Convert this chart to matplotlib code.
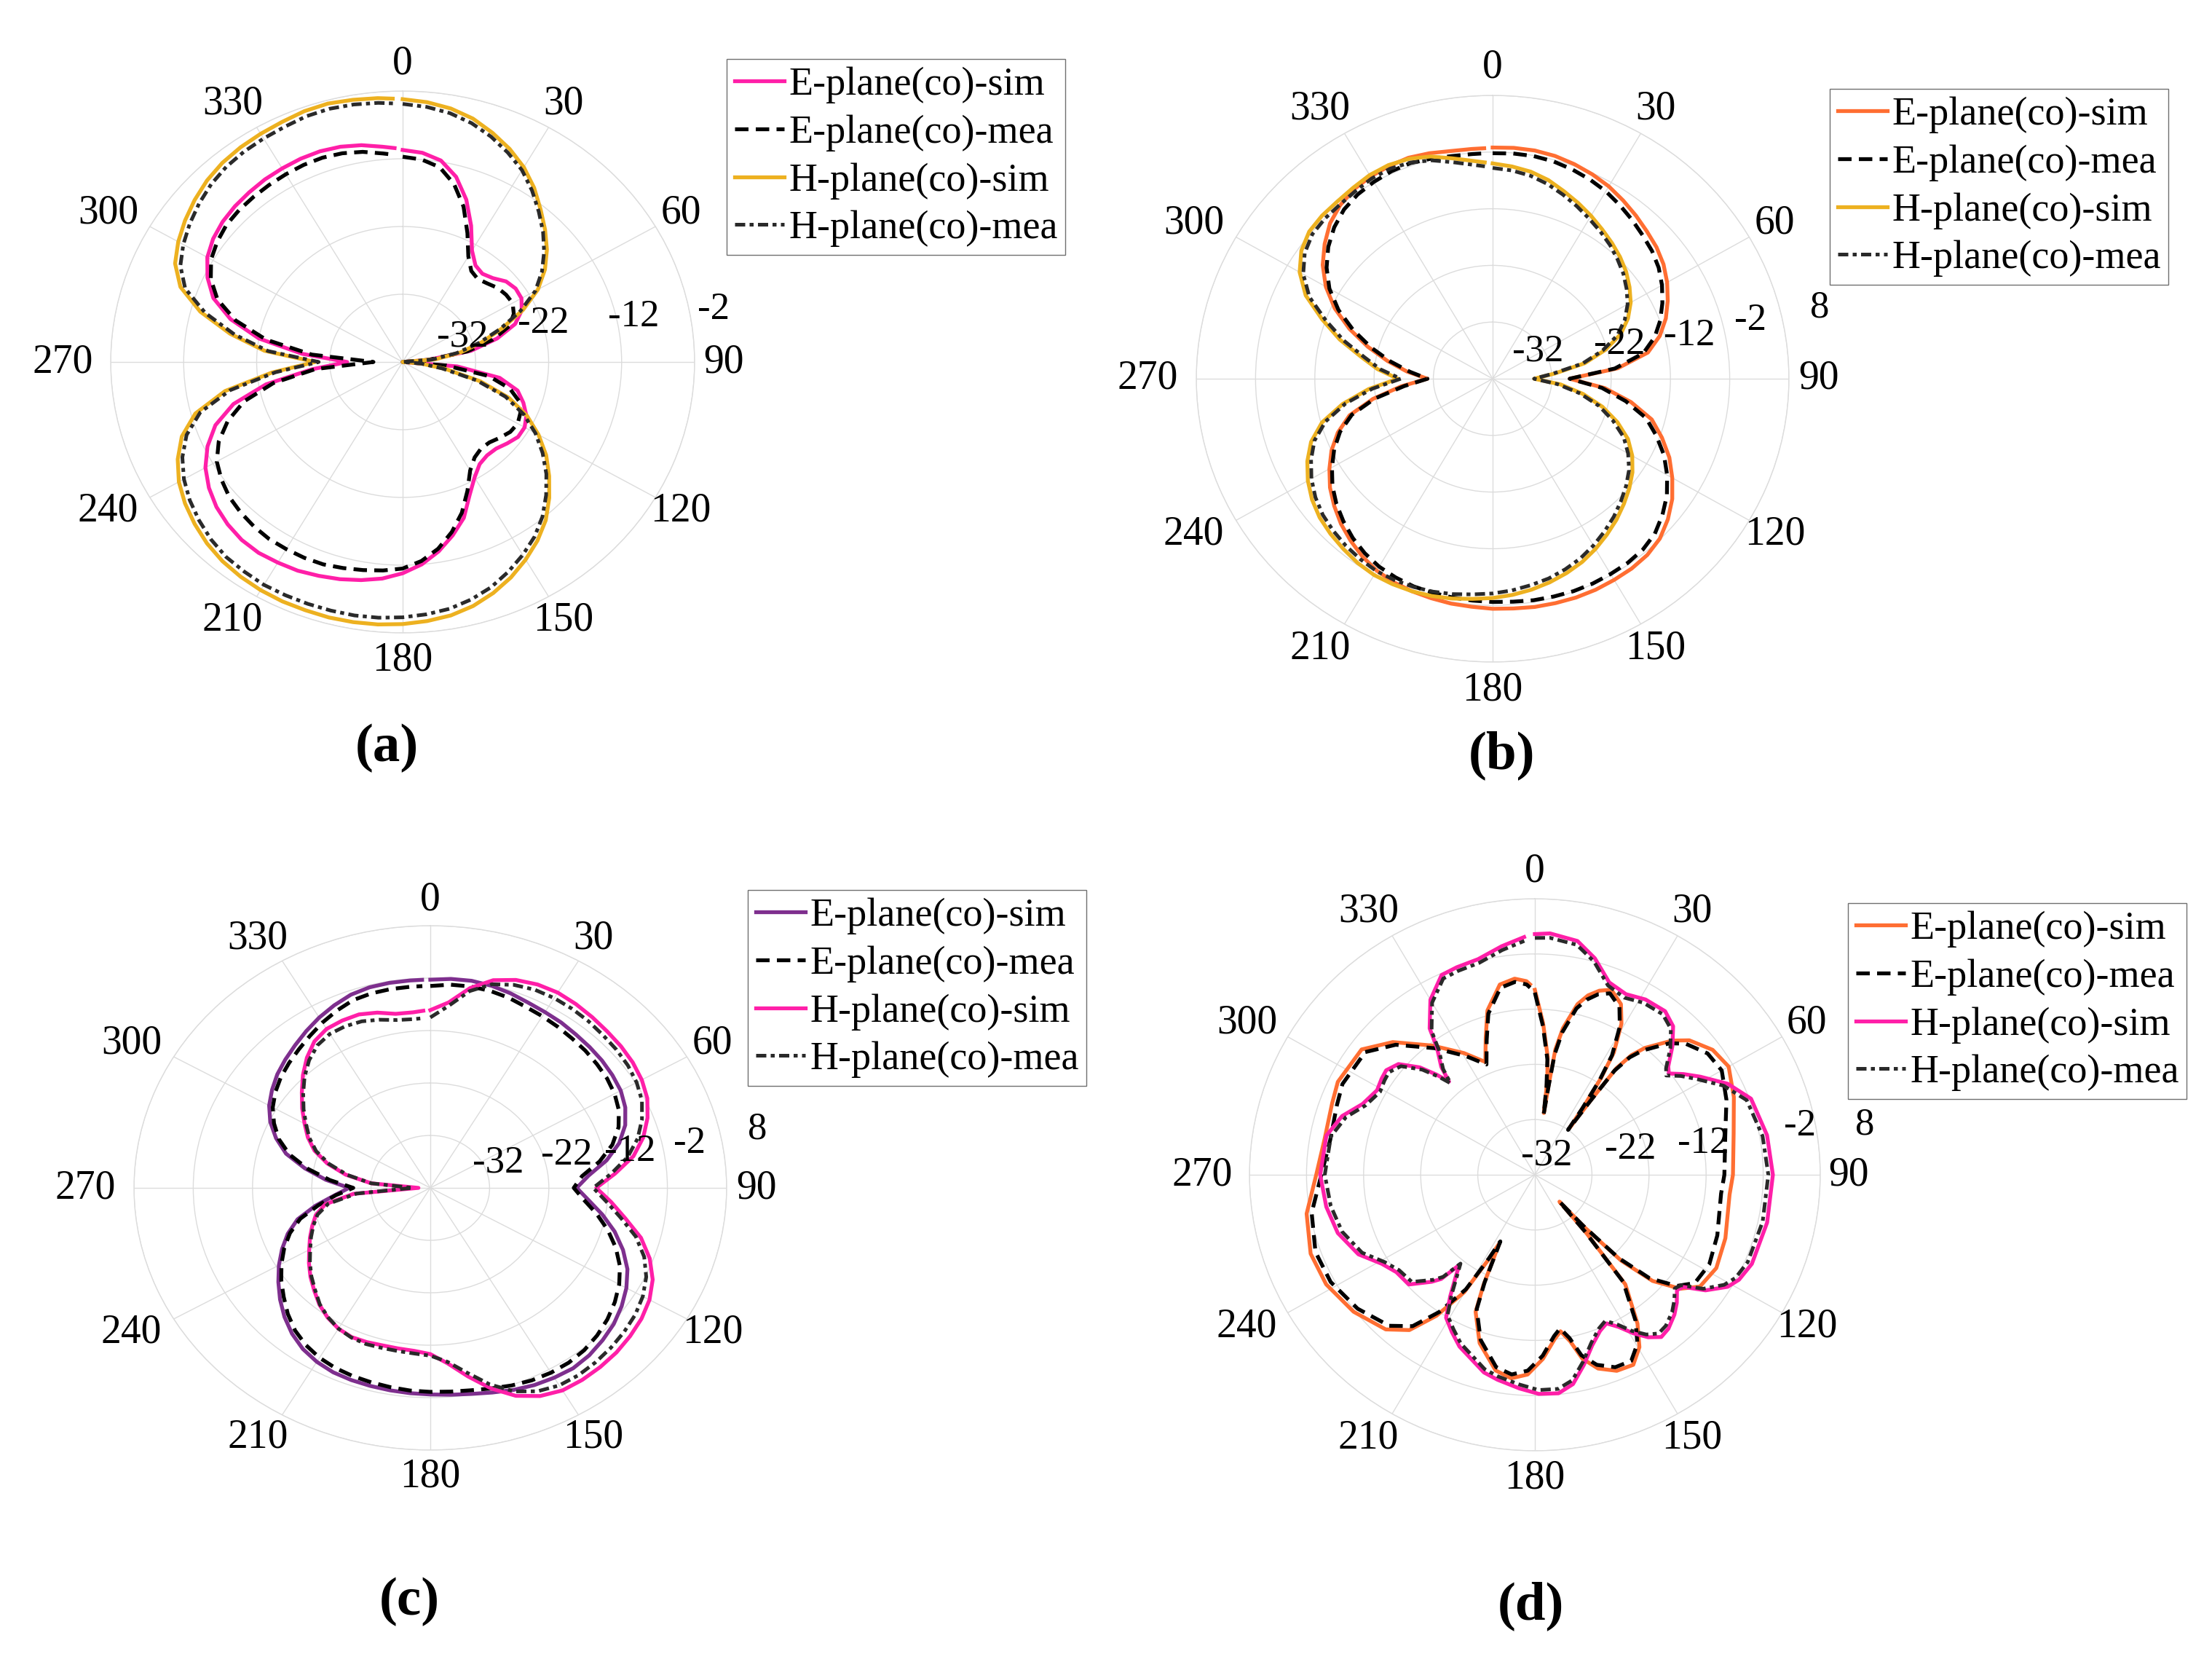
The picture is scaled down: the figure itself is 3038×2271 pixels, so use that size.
import numpy as np
import matplotlib.pyplot as plt

plt.rcParams['font.family'] = ['Liberation Serif', 'DejaVu Serif']

W, H = 3038, 2271

# ---- data (dB), angles in degrees, clockwise from top ----
th_abc = list(range(0, 360, 5)) + [358]

# (a)
a_e_sim = [-10.7, -11.0, -11.8, -13.7, -16.5, -19.8, -23.0, -24.6, -25.0, -24.5, -23.5, -23.1,
           -23.2, -24.0, -25.6, -28.6, -32.5, -38.5, -42.0, -34.5, -28.5, -25.7, -24.4, -23.3,
           -22.7, -22.7, -23.3, -23.9, -24.0, -23.6, -22.3, -20.3, -17.5, -15.5, -13.6, -12.0,
           -10.8, -9.9, -9.3, -8.8, -8.4, -8.0, -7.8, -7.6, -7.7, -8.1, -8.7, -9.6,
           -10.8, -12.5, -14.7, -18.0, -23.0, -29.5, -34.4, -28.2, -22.0, -17.6, -14.4, -12.5,
           -11.1, -10.3, -9.8, -9.5, -9.3, -9.1, -9.0, -8.9, -8.9, -9.1, -9.5, -10.1,
           -10.4]
a_e_mea = [-11.7, -12.0, -12.8, -14.8, -17.6, -21.0, -24.0, -25.6, -26.0, -25.6, -25.0, -24.7,
           -24.6, -25.2, -26.4, -29.2, -33.0, -38.5, -42.0, -36.0, -30.0, -26.8, -25.0, -24.2,
           -23.8, -24.0, -24.6, -25.2, -25.3, -24.8, -23.5, -21.0, -18.3, -16.0, -14.0, -12.5,
           -11.5, -11.1, -10.8, -10.5, -10.2, -10.1, -10.1, -10.1, -10.3, -10.6, -11.0, -11.7,
           -12.6, -14.2, -16.5, -19.5, -24.0, -30.0, -38.0, -29.5, -23.0, -18.3, -15.0, -13.0,
           -11.7, -11.0, -10.5, -10.3, -10.2, -10.1, -10.0, -9.9, -9.9, -10.1, -10.5, -11.1,
           -11.4]
a_h_sim = [-3.2, -3.5, -4.0, -4.8, -6.0, -7.3, -8.8, -10.6, -12.6, -14.4, -16.2, -18.2,
           -20.6, -23.8, -27.5, -30.8, -34.0, -37.5, -42.0, -39.5, -36.0, -31.0, -26.5, -23.2,
           -20.5, -18.0, -15.8, -13.6, -11.5, -9.8, -8.3, -6.9, -5.7, -4.7, -4.0, -3.6,
           -3.3, -3.1, -3.0, -2.95, -3.0, -3.0, -3.1, -3.3, -3.6, -4.1, -4.8, -5.6,
           -6.6, -8.0, -9.8, -12.6, -17.3, -24.0, -30.0, -23.0, -18.0, -13.3, -9.6, -7.6,
           -6.5, -5.6, -4.8, -4.1, -3.6, -3.3, -3.1, -2.9, -2.6, -2.5, -2.7, -2.9,
           -3.1]
a_h_mea = [-3.9, -4.2, -4.7, -5.5, -6.6, -7.9, -9.3, -11.1, -13.0, -14.8, -16.7, -18.7,
           -21.0, -24.2, -27.8, -31.2, -34.5, -38.0, -42.0, -39.5, -36.5, -31.5, -27.0, -23.7,
           -21.0, -18.6, -16.3, -14.2, -12.2, -10.5, -9.1, -7.8, -6.6, -5.7, -5.0, -4.6,
           -4.3, -4.1, -4.0, -4.0, -4.0, -4.0, -4.0, -4.2, -4.4, -4.9, -5.6, -6.4,
           -7.4, -8.7, -10.5, -13.3, -18.0, -24.5, -30.5, -23.5, -18.6, -14.0, -10.3, -8.4,
           -7.3, -6.4, -5.6, -4.9, -4.4, -4.1, -3.9, -3.7, -3.4, -3.3, -3.4, -3.6,
           -3.8]

# (b)
b_e_sim = [-1.2, -1.1, -1.1, -1.3, -1.7, -2.2, -2.8, -3.6, -4.4, -5.2, -5.9, -6.8,
           -8.0, -9.4, -10.9, -12.8, -15.4, -20.8, -29.0, -23.0, -18.3, -14.2, -11.6, -9.1,
           -7.0, -5.0, -3.4, -2.1, -1.4, -1.1, -1.0, -0.9, -0.9, -1.0, -1.1, -1.3,
           -1.4, -1.6, -1.7, -1.9, -2.1, -2.4, -2.9, -3.7, -4.7, -5.8, -7.1, -8.5,
           -10.2, -12.0, -14.2, -17.0, -21.5, -26.5, -31.0, -27.5, -24.0, -20.2, -16.3, -12.6,
           -9.5, -7.0, -5.0, -3.2, -2.0, -1.2, -0.8, -0.6, -0.5, -0.8, -1.2, -1.3,
           -1.3]
b_e_mea = [-2.2, -2.1, -2.1, -2.3, -2.7, -3.2, -3.8, -4.6, -5.4, -6.2, -6.9, -7.8,
           -9.0, -10.4, -11.9, -13.7, -16.2, -21.3, -29.0, -23.5, -19.2, -15.2, -12.6, -10.1,
           -8.0, -6.1, -4.6, -3.3, -2.6, -2.3, -2.2, -2.1, -2.1, -2.2, -2.3, -2.5,
           -2.6, -2.7, -2.8, -2.9, -3.0, -3.3, -3.7, -4.4, -5.3, -6.4, -7.6, -9.0,
           -10.7, -12.5, -14.6, -17.4, -21.8, -27.0, -31.0, -28.0, -24.5, -20.8, -17.0, -13.3,
           -10.2, -7.8, -5.8, -4.2, -3.0, -2.3, -1.9, -1.6, -1.5, -1.8, -2.1, -2.2,
           -2.2]
b_h_sim = [-4.0, -4.4, -4.9, -5.7, -6.8, -7.8, -8.8, -9.8, -10.7, -11.6, -12.6, -13.8,
           -15.1, -16.8, -19.0, -22.3, -26.2, -31.5, -35.0, -30.5, -26.5, -22.8, -19.6, -16.8,
           -14.8, -13.2, -11.9, -10.7, -9.5, -8.4, -7.3, -6.3, -5.5, -4.8, -4.2, -3.7,
           -3.3, -3.0, -2.6, -2.3, -2.1, -2.0, -2.0, -2.3, -2.8, -3.3, -3.9, -4.8,
           -6.0, -7.5, -9.4, -12.2, -16.3, -21.0, -26.0, -22.5, -19.4, -15.3, -11.4, -7.2,
           -4.4, -2.6, -1.6, -1.3, -1.2, -0.9, -0.5, -0.4, -0.7, -1.4, -2.5, -3.4,
           -3.8]
b_h_mea = [-4.8, -5.1, -5.6, -6.4, -7.4, -8.4, -9.4, -10.3, -11.2, -12.2, -13.2, -14.4,
           -15.7, -17.4, -19.6, -22.8, -26.6, -31.8, -35.0, -31.0, -27.0, -23.4, -20.4, -17.6,
           -15.6, -13.9, -12.6, -11.4, -10.2, -9.1, -8.0, -7.0, -6.2, -5.5, -5.0, -4.5,
           -4.1, -3.8, -3.4, -3.1, -2.9, -2.8, -2.8, -3.1, -3.5, -4.0, -4.6, -5.5,
           -6.7, -8.2, -10.0, -12.8, -16.8, -21.6, -26.5, -23.0, -20.0, -16.0, -12.1, -7.9,
           -5.1, -3.3, -2.3, -2.0, -1.9, -1.6, -1.2, -1.1, -1.4, -2.1, -3.2, -4.1,
           -4.5]

# (c)
c_e_sim = [-2.3, -2.0, -1.9, -2.1, -2.5, -3.0, -3.3, -3.5, -3.8, -4.0, -4.2, -4.5,
           -4.9, -5.7, -7.0, -9.0, -11.8, -15.2, -17.3, -15.2, -12.5, -9.8, -7.4, -5.3,
           -3.8, -2.6, -1.6, -0.9, -0.3, 0.0, -0.2, -0.5, -1.0, -1.6, -2.1, -2.4,
           -2.6, -2.7, -2.8, -2.9, -3.0, -3.2, -3.7, -4.5, -5.7, -7.2, -8.9, -10.7,
           -12.5, -14.4, -16.4, -18.8, -22.3, -25.8, -28.3, -24.3, -20.5, -16.8, -14.3, -12.2,
           -10.6, -9.4, -8.3, -7.4, -6.5, -5.5, -4.5, -3.6, -2.8, -2.4, -2.3, -2.3,
           -2.3]
c_e_mea = [-3.5, -3.1, -3.0, -3.1, -3.4, -3.9, -4.2, -4.5, -4.8, -5.0, -5.3, -5.6,
           -6.1, -6.9, -8.2, -10.2, -13.0, -16.3, -17.8, -16.0, -13.5, -11.0, -8.7, -6.7,
           -5.2, -4.0, -3.0, -2.2, -1.6, -1.3, -1.3, -1.5, -1.9, -2.4, -2.8, -3.0,
           -3.1, -3.2, -3.4, -3.6, -3.8, -4.1, -4.6, -5.4, -6.5, -8.0, -9.7, -11.3,
           -13.0, -14.8, -16.8, -19.3, -22.8, -26.0, -29.0, -25.0, -21.0, -17.4, -14.8, -12.9,
           -11.3, -10.1, -9.1, -8.3, -7.5, -6.6, -5.6, -4.7, -3.9, -3.6, -3.5, -3.5,
           -3.5]
c_h_sim = [-8.1, -6.5, -3.3, -1.0, 0.2, 0.8, 1.0, 0.8, 0.5, 0.2, 0.0, -0.3,
           -0.8, -1.6, -3.0, -4.8, -7.2, -10.7, -14.0, -11.4, -8.6, -5.2, -2.6, -0.6,
           0.7, 1.5, 2.0, 2.4, 2.6, 2.7, 2.6, 1.8, 0.2, -2.4, -5.5, -8.4,
           -10.3, -10.8, -10.9, -10.9, -10.7, -10.6, -11.0, -11.8, -12.9, -14.3, -15.6, -17.0,
           -18.4, -19.6, -20.8, -22.0, -24.0, -29.0, -40.0, -32.0, -27.5, -24.0, -21.2, -19.2,
           -17.5, -15.6, -13.7, -11.6, -9.6, -7.9, -7.0, -6.8, -6.8, -7.4, -8.3, -8.4,
           -8.2]
c_h_mea = [-9.5, -7.2, -3.9, -1.8, -0.8, -0.3, -0.2, -0.3, -0.5, -0.8, -1.0, -1.3,
           -1.8, -2.6, -4.0, -5.8, -8.2, -11.4, -14.5, -12.2, -9.4, -6.1, -3.6, -1.8,
           -0.6, 0.2, 0.7, 1.1, 1.4, 1.6, 1.5, 0.8, -0.7, -3.2, -6.2, -8.7,
           -10.0, -10.3, -10.4, -10.4, -10.3, -10.5, -11.0, -11.9, -13.0, -14.5, -15.8, -17.2,
           -18.6, -19.8, -21.0, -22.3, -24.5, -29.5, -39.0, -32.0, -27.8, -24.3, -21.5, -19.5,
           -17.8, -15.9, -14.0, -12.0, -10.2, -8.8, -8.1, -8.0, -8.2, -8.8, -9.5, -9.7,
           -9.6]

# (d)
d_e_th = [0, 3, 6, 7.3, 8, 8.5, 9, 10.5, 13.6, 16, 18.7, 21.8, 26, 29, 32, 33.5, 34.7, 35.6,
          36, 36.5, 38, 40, 44.7, 48, 54, 60, 68, 78, 90, 96, 109, 118, 125, 129, 133, 135.8,
          137.5, 138.5, 139.5, 141.4, 146.3, 149.6, 153.4, 158, 162.5, 166, 168.4, 171, 173.4,
          177.6, 182, 186.4, 191, 197.6, 202.7, 204.3, 206.6, 208, 210.2, 214, 218, 223, 232,
          241.5, 250, 260, 270, 280, 290, 296, 306.8, 314, 322.5, 330.6, 337, 340.9, 344.4,
          349.9, 354.3, 357.6, 358.6]
d_e_sim = [-8.5, -14.5, -20.5, -25, -30.7, -25, -19, -15, -10.2, -8.2, -6.8, -5.9, -7.6, -10.7,
           -15.9, -21, -27, -31.5, -25, -18, -14.5, -12, -7.8, -5.6, -3.5, -2.8, -4.4, -6.4,
           -7.3, -7.7, -6.7, -6.0, -6.7, -9.2, -13.8, -20.3, -29, -35.5, -28, -16.6, -9.6,
           -5.8, -3.5, -3.7, -5.2, -7.7, -11.2, -13.3, -12, -8.6, -5.8, -4.9, -5.9, -10,
           -15.1, -20.2, -28.1, -24.3, -17.4, -11.2, -6.3, -3.7, -1.7, -0.4, -0.2, -1.4,
           -3.7, -4.6, -4.2, -3.6, -4.1, -7.4, -12.5, -16.7, -19.8, -15.7, -11.1, -7.0,
           -6.3, -6.9, -7.5]
d_e_mea = [-9.0, -15.0, -21.0, -26.0, -31.0, -26.0, -20.0, -15.8, -11.0, -9.0, -7.5, -6.6,
           -8.2, -11.3, -16.5, -21.5, -27.5, -32.0, -25.5, -18.5, -15.0, -12.6, -8.5, -6.5,
           -4.6, -4.2, -5.8, -7.9, -8.8, -9.2, -8.2, -7.4, -7.8, -10.0, -14.5, -21.0, -29.5,
           -35.5, -28.5, -17.2, -10.2, -6.5, -4.3, -4.4, -5.9, -8.3, -11.8, -13.8, -12.6,
           -9.2, -6.5, -5.6, -6.5, -10.6, -15.6, -20.6, -28.5, -24.8, -18.0, -12.0, -7.2,
           -4.6, -2.6, -1.3, -1.1, -2.3, -4.6, -5.6, -5.1, -4.5, -4.9, -8.1, -13.1, -17.3,
           -20.3, -16.2, -11.7, -7.6, -6.9, -7.5, -8.1]
d_h_th = [0, 3.5, 10, 15, 20.5, 26, 31.4, 37.6, 42, 46, 50, 52, 55, 58.5, 64, 70, 80, 90,
          102, 113, 118, 121, 125, 128, 130, 133, 136, 140, 143, 146, 149, 152, 155, 158,
          162, 166, 170, 174, 179, 184, 190, 194, 203, 207, 211, 214, 217, 219, 221, 223,
          228, 234, 239, 245, 253, 261, 270, 281, 287.5, 293, 299, 303, 306, 310, 314,
          316.5, 318.3, 320, 323.3, 325.2, 330, 335.7, 340, 345.7, 352, 357.5]
d_h_sim = [1.6, 1.8, 1.0, -1.4, -4.8, -5.6, -4.8, -4.6, -5.8, -8.5, -11.5, -12.2, -10.2,
           -8.0, -4.4, -1.7, -0.7, -0.3, -0.4, -0.7, -1.5, -2.6, -5.5, -9.0, -9.5, -8.0,
           -6.8, -5.6, -5.2, -6.5, -8.5, -10.8, -12.3, -11.5, -9.5, -6.5, -3.5, -2.2, -2.3,
           -3.2, -4.3, -5.1, -8.2, -10.0, -11.8, -15.5, -19.0, -21.0, -17.0, -15.5, -12.3,
           -12.0, -10.7, -7.9, -5.9, -5.0, -4.4, -4.8, -6.6, -9.2, -10.4, -10.0, -9.8,
           -10.8, -14.0, -17.0, -19.4, -16.5, -13.3, -9.7, -5.4, -2.3, -2.0, -1.7, -0.2, 1.1]
d_h_mea = [0.9, 1.0, 0.3, -2.0, -5.4, -6.3, -5.5, -5.3, -6.4, -9.0, -12.0, -12.8, -10.8,
           -8.8, -5.2, -2.5, -1.5, -1.1, -1.2, -1.5, -2.2, -3.3, -6.0, -9.5, -10.0, -8.6,
           -7.4, -6.3, -6.0, -7.1, -9.0, -11.3, -12.8, -12.0, -10.0, -7.1, -4.2, -3.0, -3.0,
           -3.9, -4.9, -5.7, -8.8, -10.6, -12.3, -16.0, -19.5, -21.3, -17.5, -16.0, -13.0,
           -12.6, -11.3, -8.6, -6.7, -5.8, -5.2, -5.6, -7.3, -9.8, -11.0, -10.6, -10.4,
           -11.4, -14.6, -17.5, -19.8, -17.0, -13.9, -10.3, -6.0, -3.0, -2.7, -2.4, -0.9, 0.4]

labels = ['E-plane(co)-sim', 'E-plane(co)-mea', 'H-plane(co)-sim', 'H-plane(co)-mea']
theta_ticks = list(range(0, 360, 30))
r_ticks_a = [-32, -22, -12, -2]
r_ticks = [-32, -22, -12, -2, 8]

MAGENTA = '#ff1fa8'
YELLOW = '#edb120'
ORANGE = '#ff6e32'
PURPLE = '#7e2f8e'

SIM = dict(ls='-', lw=3.8)
E_MEA = dict(color='black', lw=3.8, dashes=(3.5, 1.9))
H_MEA = dict(color='#2a2a2a', lw=3.6, dashes=(2.8, 1.2, 1.1, 1.2))

fig = plt.figure(figsize=(W / 100, H / 100), dpi=100)


def panel(cx, cy, rx, ry, rmax, rticks, rlab, curves, leg_xy, tag, tag_xy):
    ax = fig.add_axes([(cx - rx) / W, 1 - (cy + ry) / H, 2 * rx / W, 2 * ry / H],
                      projection='polar')
    ax.set_aspect('auto')
    ax.set_theta_zero_location('N')
    ax.set_theta_direction(-1)
    ax.set_ylim(-42, rmax)
    ax.set_yticks(rticks)
    ax.set_yticklabels([])
    ax.set_xticks(np.deg2rad(theta_ticks))
    ax.set_xticklabels([])
    ax.grid(True, color='#dcdcdc', lw=1.0)
    ax.spines['polar'].set_color('#dcdcdc')
    ax.spines['polar'].set_linewidth(1.0)

    # angle labels just outside the outer ring
    for t in theta_ticks:
        s, c = np.sin(np.deg2rad(t)), np.cos(np.deg2rad(t))
        nx = 1.10 * s - 0.065 * max(0.0, -s)
        ny = 1.10 * c
        ax.text(0.5 + 0.5 * nx, 0.5 + 0.5 * ny, str(t), transform=ax.transAxes,
                ha='center', va='center', fontsize=40, clip_on=False)

    handles = []
    for (th, vals, color, style), lab in zip(curves, labels):
        kw = dict(style)
        if color is not None:
            kw['color'] = color
        ln, = ax.plot(np.deg2rad(th), vals, label=lab, **kw)
        handles.append(ln)

    for v, (dx, dy) in zip(rticks, rlab):
        ax.text(0.5 + dx / (2 * rx), 0.5 - dy / (2 * ry), '%g' % v, transform=ax.transAxes,
                ha='center', va='center', fontsize=38)

    leg = fig.legend(handles, labels, loc='upper left',
                     bbox_to_anchor=(leg_xy[0] / W, 1 - leg_xy[1] / H),
                     frameon=True, fancybox=False, edgecolor='#707070', framealpha=1,
                     fontsize=39, handlelength=1.25, handletextpad=0.12, borderpad=0.2,
                     labelspacing=0.28, borderaxespad=0)
    leg.get_frame().set_linewidth(1.0)

    fig.text(tag_xy[0] / W, 1 - tag_xy[1] / H, tag, ha='center', va='center',
             fontsize=54, fontweight='bold')
    return ax


panel(553, 497, 401, 372, -2, r_ticks_a,
      [(82, -35), (193, -53), (317, -62), (427, -72)],
      [(th_abc, a_e_sim, MAGENTA, SIM), (th_abc, a_e_mea, None, E_MEA),
       (th_abc, a_h_sim, YELLOW, SIM), (th_abc, a_h_mea, None, H_MEA)],
      (998, 81), '(a)', (531, 1027))

panel(2050, 520, 407, 389, 8, r_ticks,
      [(62, -37), (174, -47), (270, -59), (354, -80), (449, -98)],
      [(th_abc, b_e_sim, ORANGE, SIM), (th_abc, b_e_mea, None, E_MEA),
       (th_abc, b_h_sim, YELLOW, SIM), (th_abc, b_h_mea, None, H_MEA)],
      (2513, 122), '(b)', (2063, 1037))

panel(591, 1631, 407, 360, 8, r_ticks,
      [(93, -34), (187, -45), (274, -50), (356, -61), (449, -81)],
      [(th_abc, c_e_sim, PURPLE, SIM), (th_abc, c_e_mea, None, E_MEA),
       (th_abc, c_h_sim, MAGENTA, SIM), (th_abc, c_h_mea, None, H_MEA)],
      (1027, 1222), '(c)', (562, 2199))

panel(2108, 1613, 392, 379, 8, r_ticks,
      [(16, -27), (131, -35), (231, -43), (364, -67), (453, -69)],
      [(d_e_th, d_e_sim, ORANGE, SIM), (d_e_th, d_e_mea, None, E_MEA),
       (d_h_th, d_h_sim, MAGENTA, SIM), (d_h_th, d_h_mea, None, H_MEA)],
      (2538, 1240), '(d)', (2102, 2205))

fig.savefig('out.png', dpi=100, facecolor='white')
